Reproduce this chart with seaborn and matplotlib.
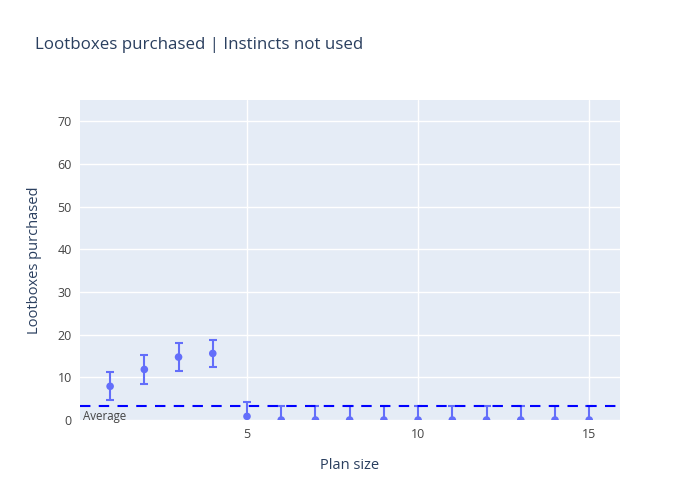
import matplotlib
matplotlib.use("Agg")
import matplotlib.pyplot as plt
import seaborn as sns
import pandas as pd

plan_size = [1, 2, 3, 4, 5, 6, 7, 8, 9, 10, 11, 12, 13, 14, 15]
lootboxes = [7.9, 11.85, 14.75, 15.6, 0.85, 0, 0, 0, 0, 0, 0, 0, 0, 0, 0]
error = [3.3, 3.3, 3.3, 3.25, 3.35, 3.35, 3.35, 3.35, 3.35, 3.35, 3.35, 3.35, 3.35, 3.35, 3.35]
average = 3.3

title = "Lootboxes purchased | Instincts not used"
x_label = "Plan size"
y_label = "Lootboxes purchased"

df = pd.DataFrame({"plan": plan_size, "val": lootboxes, "err": error})

sns.set_theme(style="darkgrid")
plt.rcParams["font.family"] = ["Open Sans", "DejaVu Sans"]

fig = plt.figure(figsize=(7, 5), dpi=100)
ax = fig.add_axes([80 / 700, 1 - 420 / 500, 540 / 700, 320 / 500])
ax.set_facecolor("#E5ECF6")
fig.patch.set_facecolor("white")

marker_color = "#636efa"
ax.errorbar(df["plan"], df["val"], yerr=df["err"], fmt="none", ecolor=marker_color,
            elinewidth=1.5, capsize=2.9, capthick=1.5, zorder=3)
sns.scatterplot(data=df, x="plan", y="val", ax=ax, color=marker_color, s=30,
                edgecolor="none", zorder=4, legend=False)

ax.axhline(average, color="#0000ff", linestyle=(0, (5, 4)), linewidth=1.5, zorder=5)
ax.text(0.22, average - 1.0, "Average", fontsize=8.3, color="#444444",
        ha="left", va="top", zorder=6)

ax.set_xlim(0.12, 15.9)
ax.set_ylim(0, 75)
ax.set_xticks([5, 10, 15])
ax.set_yticks([0, 10, 20, 30, 40, 50, 60, 70])
ax.grid(True, color="white", linewidth=1)
for s in ax.spines.values():
    s.set_visible(False)
ax.tick_params(axis="both", length=0, labelsize=9, colors="#444444", pad=6)

ax.set_xlabel(x_label, fontsize=10.5, color="#2a3f5f", labelpad=12)
ax.set_ylabel(y_label, fontsize=10.5, color="#2a3f5f", labelpad=11)

fig.text(35 / 700, 1 - 45 / 500, title, fontsize=12.2, color="#2a3f5f",
         ha="left", va="center")

fig.savefig("out.png", dpi=100, facecolor="white")
